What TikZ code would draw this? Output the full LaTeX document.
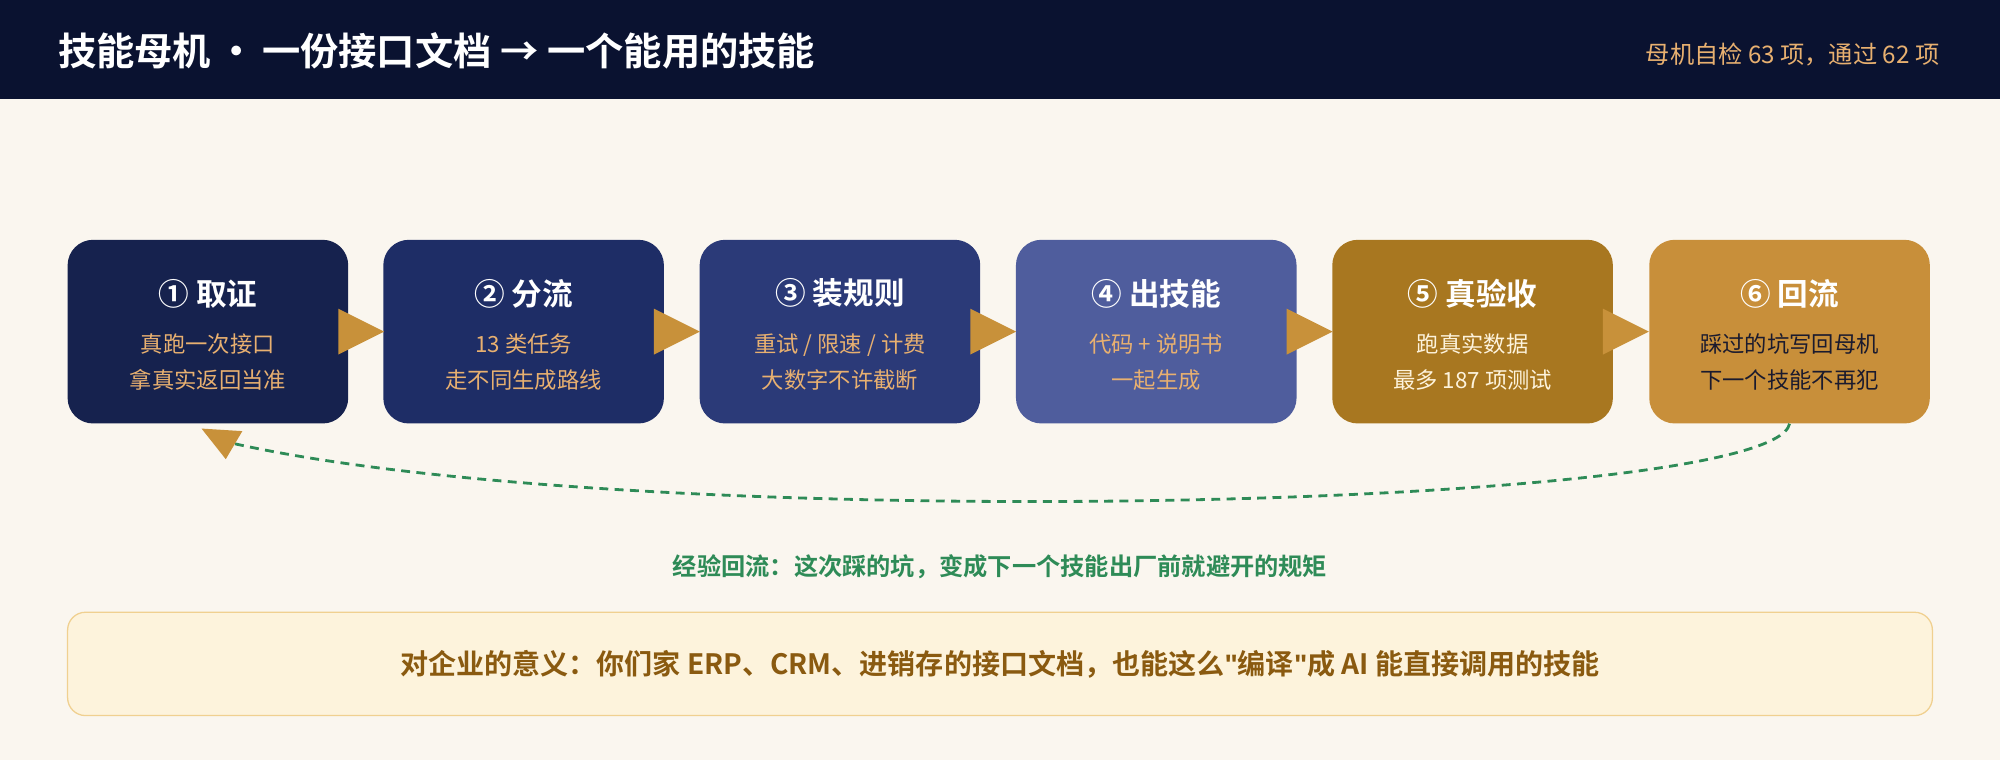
\documentclass[tikz,border=0pt]{standalone}
\usepackage{fontspec}
\setmainfont{Noto Sans CJK SC}[BoldFont={Noto Sans CJK SC Bold}]
\newfontfamily\latq{Liberation Sans}
\usetikzlibrary{arrows.meta}
\definecolor{hdr}{HTML}{0A1230}
\definecolor{bg}{HTML}{FAF6EF}
\definecolor{ca}{HTML}{16224E}
\definecolor{cb}{HTML}{1E2D66}
\definecolor{cc}{HTML}{2B3A78}
\definecolor{cd}{HTML}{4F5D9D}
\definecolor{ce}{HTML}{A87720}
\definecolor{cf}{HTML}{C88F3A}
\definecolor{gold}{HTML}{E8B070}
\definecolor{arr}{HTML}{C8913A}
\definecolor{grn}{HTML}{2E8B57}
\definecolor{brn}{HTML}{8A5A10}
\definecolor{cream}{HTML}{FDF3DC}
\definecolor{creamb}{HTML}{F0D090}
\definecolor{dk}{HTML}{1A1A2E}
\tikzset{
 stepbox/.style={rounded corners=20pt, minimum width=220pt, minimum height=144pt, inner sep=0pt, draw=none},
 ttl/.style={font=\bfseries\fontsize{24}{28}\selectfont, text=white},
 sub/.style={font=\fontsize{17.5}{28}\selectfont, align=center},
}
\begin{document}
\begin{tikzpicture}[x=1pt,y=-1pt]
\useasboundingbox (0,0) rectangle (1568,596);
\fill[bg] (0,0) rectangle (1568,596);
\fill[hdr] (0,0) rectangle (1568,78);
\node[anchor=west, text=white, font=\bfseries\fontsize{30}{34}\selectfont] (title) at (42,40) {技能母机\,·\,一份接口文档 → 一个能用的技能};
\node[anchor=east, text=gold, font=\fontsize{19}{22}\selectfont] (stat) at (1524,43) {母机自检 63 项，通过 62 项};
\foreach \n/\x/\c in {1/163/ca,2/410.5/cb,3/658.5/cc,4/906.5/cd,5/1154.5/ce,6/1403/cf}{
  \node[stepbox, fill=\c] (b\n) at (\x,260) {};
}
\foreach \a in {1,2,3,4,5}{
  \fill[arr] ([xshift=-8pt,yshift=18pt]b\a.east) -- ([xshift=28pt]b\a.east) -- ([xshift=-8pt,yshift=-18pt]b\a.east) -- cycle;
}
\foreach \n/\t/\l/\m/\col in {
 1/{① 取证}/{真跑一次接口}/{拿真实返回当准}/gold,
 2/{② 分流}/{13 类任务}/{走不同生成路线}/gold,
 3/{③ 装规则}/{重试 / 限速 / 计费}/{大数字不许截断}/gold,
 4/{④ 出技能}/{代码 + 说明书}/{一起生成}/gold,
 5/{⑤ 真验收}/{跑真实数据}/{最多 187 项测试}/cream,
 6/{⑥ 回流}/{踩过的坑写回母机}/{下一个技能不再犯}/dk}{
  \node[ttl] (t\n) at ([yshift=30pt]b\n.center) {\t};
  \node[sub, text=\col] (s\n) at ([yshift=-24pt]b\n.center) {\l\\\m};
}
\coordinate (tip) at (158,336);
\draw[grn, line width=2.2pt, dash pattern=on 7pt off 5pt] (b6.south) .. controls (1390,400) and (500,420) .. (180,347);
\fill[arr] (tip) -- (190,338) -- (177,360) -- cycle;
\node[text=grn, font=\bfseries\fontsize{19}{22}\selectfont] (lab) at (784,444) {经验回流：这次踩的坑，变成下一个技能出厂前就避开的规矩};
\node[draw=creamb, fill=cream, line width=1pt, rounded corners=14pt, minimum width=1462pt, minimum height=81pt] (bot) at (784,520.5) {};
\node[text=brn, font=\bfseries\fontsize{22}{26}\selectfont] (bt) at (bot.center) {对企业的意义：你们家 ERP、CRM、进销存的接口文档，也能这么{\latq\bfseries\symbol{34}}编译{\latq\bfseries\symbol{34}}成 AI 能直接调用的技能};
\end{tikzpicture}
\end{document}
